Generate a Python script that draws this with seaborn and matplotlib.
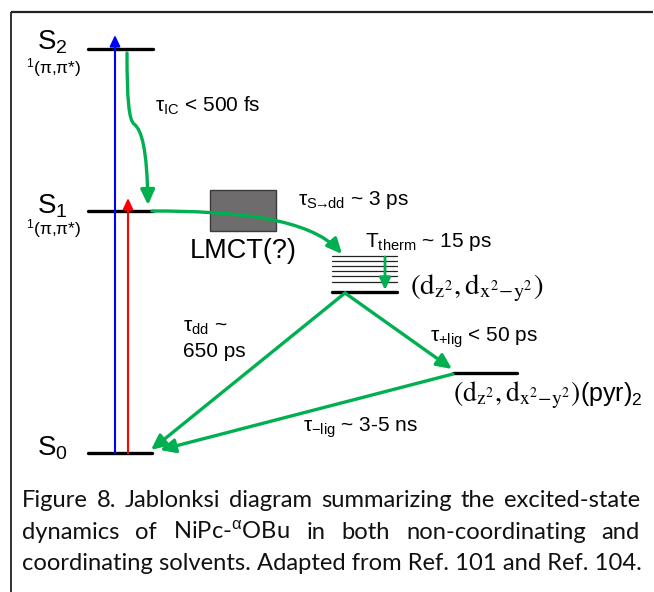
import numpy as np
import pandas as pd
import matplotlib
matplotlib.use("Agg")
import matplotlib.pyplot as plt
import seaborn as sns
from matplotlib.patches import FancyArrowPatch, Rectangle
from matplotlib.path import Path

# ---------------- data (diagram coordinates in pixels) ----------------
level_names = ["S2", "S1", "S0", "dd", "dd_pyr"]
level_x0 = [88, 88, 88, 332, 453]
level_x1 = [153, 153, 152, 397, 517]
level_y = [49, 211, 453, 292, 373]

hot_levels_y = [256, 261, 266, 271, 276, 282]
hot_x = [332, 397]

state_labels = [r"S$_2$", r"S$_1$", r"S$_0$"]
state_label_xy = [(37, 49), (37, 213), (37, 455)]
orbital_labels = [r"$^1$(π,π*)", r"$^1$(π,π*)"]
orbital_label_xy = [(26, 68), (26, 229)]

rate_labels = [r"τ$_{\mathrm{IC}}$ < 500 fs",
               r"τ$_{\mathrm{S}\!\!\rightarrow\!\!\mathrm{dd}}$ ~ 3 ps",
               r"T$_{\mathrm{therm}}$ ~ 15 ps",
               r"τ$_{\mathrm{dd}}$ ~",
               "650 ps",
               r"τ$_{\mathrm{+lig}}$ < 50 ps",
               r"τ$_{\mathrm{-lig}}$ ~ 3-5 ns"]
rate_label_xy = [(155, 112), (298, 205), (365, 247), (183, 332),
                 (183, 357), (430, 342), (303, 432)]

dd_label = r"$(\mathrm{d}_{\mathrm{z}^2},\mathrm{d}_{\mathrm{x}^2\!-\!\mathrm{y}^2})$"
dd_label_xy = [(410, 294), (453, 401)]
dd_label_size = [21, 20]
pyr_suffix = r"(pyr)$_2$"

lmct_box = (210, 190, 66, 41)
lmct_label = "LMCT(?)"
lmct_label_xy = (190, 258)

caption_lines = ["Figure 8. Jablonksi diagram summarizing the excited-state",
                 "dynamics of NiPc-$^{\\mathrm{α}}$OBu in both non-coordinating and",
                 "coordinating solvents. Adapted from Ref. 101 and Ref. 104."]
caption_baselines = [507, 539, 570]
caption_x = (22, 640)

GREEN = "#00B050"

# ---------------- figure ----------------
sns.set_theme(style="white")
plt.rcParams["font.family"] = ["Liberation Sans", "DejaVu Sans"]
plt.rcParams["text.color"] = "black"
plt.rcParams["mathtext.fontset"] = "custom"
plt.rcParams["mathtext.rm"] = "Liberation Sans"
plt.rcParams["mathtext.it"] = "Liberation Sans:italic"
plt.rcParams["mathtext.bf"] = "Liberation Sans:bold"
plt.rcParams["mathtext.sf"] = "Liberation Sans"

W, H = 654, 592
fig = plt.figure(figsize=(W / 100, H / 100), dpi=100)
ax = fig.add_axes([0, 0, 1, 1])
ax.set_xlim(0, W)
ax.set_ylim(H, 0)
ax.axis("off")

# frame
ax.plot([11, 653], [12, 12], color="#222222", lw=1.6, solid_capstyle="butt")
ax.plot([11, 11], [12, 592], color="#222222", lw=1.3, solid_capstyle="butt")

# energy levels via seaborn
lv = pd.DataFrame({
    "x": [v for a, b in zip(level_x0, level_x1) for v in (a, b)],
    "y": [v for y in level_y for v in (y, y)],
    "level": [n for n in level_names for _ in range(2)],
})
sns.lineplot(data=lv, x="x", y="y", units="level", estimator=None, sort=False,
             color="black", lw=2.4, ax=ax, zorder=5)
hv = pd.DataFrame({
    "x": [v for _ in hot_levels_y for v in hot_x],
    "y": [v for y in hot_levels_y for v in (y, y)],
    "level": [i for i in range(len(hot_levels_y)) for _ in range(2)],
})
sns.lineplot(data=hv, x="x", y="y", units="level", estimator=None, sort=False,
             color="#222222", lw=0.9, ax=ax, zorder=5)
ax.set_xlim(0, W)
ax.set_ylim(H, 0)
ax.axis("off")

# LMCT box
ax.add_patch(Rectangle(lmct_box[:2], lmct_box[2], lmct_box[3],
                       facecolor="#6e6c6c", edgecolor="#3a3a3a", lw=1.0, zorder=3))

HEAD = "-|>,head_length=0.6,head_width=0.28"


def arrow(p0, p1, color, lw, ms, z=6):
    a = FancyArrowPatch(p0, p1, arrowstyle=HEAD,
                        mutation_scale=ms, color=color, lw=lw,
                        shrinkA=0, shrinkB=0, zorder=z)
    ax.add_patch(a)


def curve_arrow(verts, color, lw, ms, z=6):
    codes = [Path.MOVETO] + [Path.CURVE4] * (len(verts) - 1)
    a = FancyArrowPatch(path=Path(verts, codes), arrowstyle=HEAD,
                        mutation_scale=ms, color=color, lw=lw, zorder=z)
    ax.add_patch(a)


# excitation arrows
arrow((115, 453), (115, 35), "#0000FF", 1.5, 11)
arrow((128, 453), (128, 198), "#FF0000", 1.5, 11)

# green relaxation pathways
curve_arrow([(127, 53), (127, 100), (129, 120), (134, 124),
             (142, 130), (147, 150), (148, 205)], GREEN, 2.4, 15)
curve_arrow([(152, 211), (235, 211), (310, 218), (342, 254)], GREEN, 2.4, 15)
arrow((385, 257), (385, 290), GREEN, 2.0, 12)
arrow((345, 293), (151, 450), GREEN, 2.4, 15)
arrow((345, 293), (452, 369), GREEN, 2.4, 15)
arrow((453, 374), (160, 450), GREEN, 2.4, 15)

# state labels
for s, (x, y) in zip(state_labels, state_label_xy):
    ax.text(x, y, s, fontsize=20, ha="left", va="baseline", color="black")
for s, (x, y) in zip(orbital_labels, orbital_label_xy):
    ax.text(x, y, s, fontsize=12.5, ha="left", va="center", color="black")

for s, (x, y) in zip(rate_labels, rate_label_xy):
    ax.text(x, y, s, fontsize=15, ha="left", va="baseline", color="black")

ax.text(*lmct_label_xy, lmct_label, fontsize=19.5, ha="left", va="baseline",
        color="black")

fig.canvas.draw()
renderer = fig.canvas.get_renderer()

ax.text(*dd_label_xy[0], dd_label, fontsize=dd_label_size[0], ha="left",
        va="baseline", math_fontfamily="stix", color="black")
t_pyr = ax.text(*dd_label_xy[1], dd_label, fontsize=dd_label_size[1], ha="left",
                va="baseline", math_fontfamily="stix", color="black")
wpx = t_pyr.get_window_extent(renderer).width
ax.text(dd_label_xy[1][0] + wpx, dd_label_xy[1][1], pyr_suffix, fontsize=18,
        ha="left", va="baseline", color="black")

# caption (justified)
cap_font = ["Lato", "DejaVu Sans"]
probe = ax.text(0, 0, caption_lines[2], fontsize=12, family=cap_font)
w_probe = probe.get_window_extent(renderer).width
probe.remove()
cap_fs = 12 * (616 / w_probe)

for i, (line, yb) in enumerate(zip(caption_lines, caption_baselines)):
    if i == len(caption_lines) - 1:
        ax.text(caption_x[0], yb, line, fontsize=cap_fs, family=cap_font,
                ha="left", va="baseline", color="#111111")
        continue
    words = line.split(" ")
    ts = [ax.text(0, yb, w, fontsize=cap_fs, family=cap_font, ha="left",
                  va="baseline", color="#111111") for w in words]
    widths = [t.get_window_extent(renderer).width for t in ts]
    gap = (caption_x[1] - caption_x[0] - sum(widths)) / (len(words) - 1)
    x = caption_x[0]
    for t, w in zip(ts, widths):
        t.set_x(x)
        x += w + gap

fig.savefig("out.png", dpi=100)
